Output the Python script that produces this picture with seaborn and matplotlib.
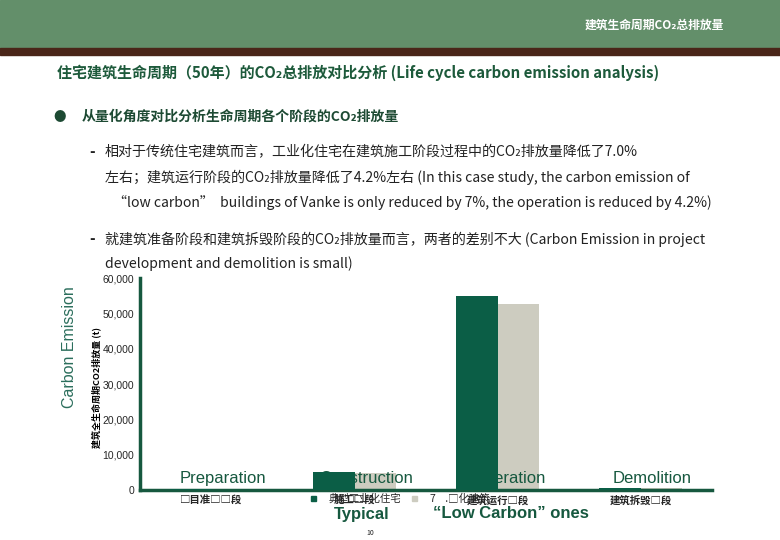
import numpy as np
import pandas as pd
import matplotlib
matplotlib.use("Agg")
import matplotlib.pyplot as plt
import seaborn as sns
from matplotlib.patches import Rectangle

# -------- data --------
stages = ["□目准□□段", "施工□段", "建筑运行□段", "建筑拆毁□段"]
stage_en = ["Preparation", "Construction", "Operation", "Demolition"]
series = ["典型工业化住宅", "7    .□化建筑"]
typical = [250, 5180, 55000, 600]
low_carbon = [240, 4820, 52700, 590]
yticks = [0, 10000, 20000, 30000, 40000, 50000, 60000]

df = pd.DataFrame({
    "stage": stages * 2,
    "type": [series[0]] * 4 + [series[1]] * 4,
    "value": typical + low_carbon,
})

green = "#0b5e46"
grey = "#cdccc0"
dark = "#16583f"

sns.set_theme(style="white")
plt.rcParams["font.family"] = ["Noto Sans CJK SC", "DejaVu Sans"]

fig = plt.figure(figsize=(7.8, 5.4), dpi=100)
W, H = 780, 540

def fx(x):
    return x / W

def fy(y):
    return 1 - y / H

# -------- slide header --------
fig.patches.append(Rectangle((0, fy(48)), 1, 48 / H, transform=fig.transFigure,
                             color="#638f6a", zorder=0))
fig.patches.append(Rectangle((0, fy(55)), 1, 7 / H, transform=fig.transFigure,
                             color="#4a2619", zorder=0))
fig.text(fx(585), fy(25), "建筑生命周期CO₂总排放量", color="white", fontsize=8.5,
         fontweight="bold", va="center", ha="left")

fig.text(fx(57), fy(73), "住宅建筑生命周期（50年）的CO₂总排放对比分析 (Life cycle carbon emission analysis)",
         color="#1d5a3b", fontsize=10.8, fontweight="bold", va="center")
fig.text(fx(60), fy(117), "●", color="#1d4a33", fontsize=9, va="center", ha="center")
fig.text(fx(82), fy(117), "从量化角度对比分析生命周期各个阶段的CO₂排放量",
         color="#1d4a33", fontsize=10, fontweight="bold", va="center")

body = "#222222"
bfs = 10.1
fig.text(fx(92), fy(152), "-", color=body, fontsize=11, fontweight="bold", va="center", ha="center")
fig.text(fx(105), fy(152), "相对于传统住宅建筑而言，工业化住宅在建筑施工阶段过程中的CO₂排放量降低了7.0%",
         color=body, fontsize=bfs, va="center")
fig.text(fx(105), fy(177), "左右；建筑运行阶段的CO₂排放量降低了4.2%左右 (In this case study, the carbon emission of",
         color=body, fontsize=bfs, va="center")
fig.text(fx(113), fy(202), "“low carbon”  buildings of Vanke is only reduced by 7%, the operation is reduced by 4.2%)",
         color=body, fontsize=bfs, va="center")
fig.text(fx(92), fy(239), "-", color=body, fontsize=11, fontweight="bold", va="center", ha="center")
fig.text(fx(105), fy(239), "就建筑准备阶段和建筑拆毁阶段的CO₂排放量而言，两者的差别不大 (Carbon Emission in project",
         color=body, fontsize=bfs, va="center")
fig.text(fx(105), fy(264), "development and demolition is small)",
         color=body, fontsize=bfs, va="center")

# -------- chart --------
ax = fig.add_axes([fx(140), fy(490), 572 / W, 212 / H])
sns.barplot(data=df, x="stage", y="value", hue="type", order=stages, hue_order=series,
            palette=[green, grey], width=0.58, saturation=1, ax=ax, legend=False,
            linewidth=0, edgecolor="none")

for p in ax.containers[0]:
    p.set_zorder(3)
for p in ax.containers[1]:
    p.set_zorder(1)

ax.set_xlim(-0.5, 3.5)
ax.set_ylim(0, 60000)
ax.set_yticks(yticks)
ax.set_yticklabels([f"{v:,}" for v in yticks], fontsize=7.5, family="Liberation Sans")
ax.set_xticks(range(4))
ax.set_xticklabels(stages, fontsize=7.5, fontweight="bold")
ax.tick_params(axis="x", length=0, pad=4)
ax.tick_params(axis="y", length=3, width=1.5, color=dark, pad=1, direction="out")
ax.set_xlabel("")
ax.set_ylabel("")
for s in ["top", "right"]:
    ax.spines[s].set_visible(False)
for s in ["left", "bottom"]:
    ax.spines[s].set_color(dark)
    ax.spines[s].set_linewidth(2.5)

# stage names overlaid on the baseline
for i, name in enumerate(stage_en):
    ax.text(i + 0.08, 0.02, name, transform=ax.get_xaxis_transform(), ha="center",
            va="bottom", fontsize=12, color=dark, family="Liberation Sans", zorder=2,
            clip_on=False)

# legend
handles = [Rectangle((0, 0), 1, 1, color=green), Rectangle((0, 0), 1, 1, color=grey)]
fig.legend(handles, series, loc="center left", bbox_to_anchor=(fx(306), fy(499)),
           ncol=2, frameon=False, fontsize=7.5, handlelength=0.5, handleheight=0.5,
           handletextpad=1.2, columnspacing=1.0, borderpad=0)

fig.text(fx(362), fy(514), "Typical", color=dark, fontsize=12, fontweight="bold",
         family="Liberation Sans", ha="center", va="center")
fig.text(fx(511), fy(514), "“Low Carbon” ones", color=dark, fontsize=12, fontweight="bold",
         family="Liberation Sans", ha="center", va="center")
fig.text(fx(370), fy(533), "10", color="#222222", fontsize=5, ha="center", va="center")

# axis titles
fig.text(fx(70), fy(347), "Carbon Emission", color="#2b6e5c", fontsize=11.5,
         family="Liberation Sans", rotation=90, ha="center", va="center")
fig.text(fx(96), fy(387), "建筑全生命周期CO2排放量 (t)", color="black", fontsize=6.5,
         fontweight="bold", rotation=90, ha="center", va="center")

fig.savefig("out.png", dpi=100)
